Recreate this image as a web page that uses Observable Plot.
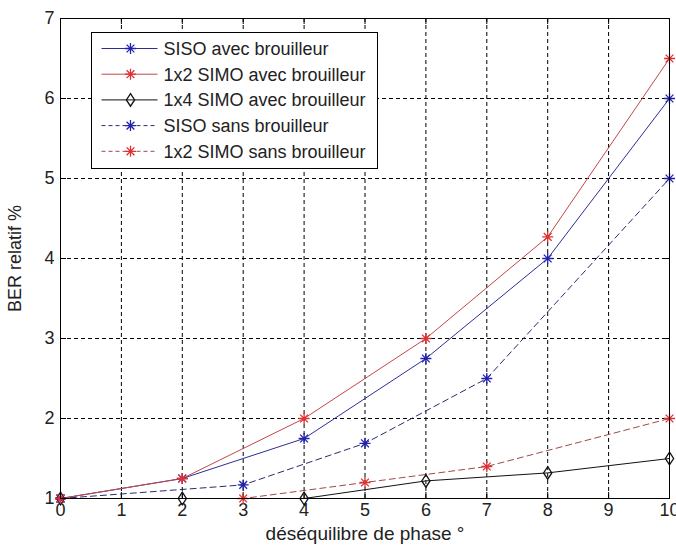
<!DOCTYPE html>
<html>
<head>
<meta charset="utf-8">
<script src="https://cdn.jsdelivr.net/npm/d3@7"></script>
<script src="https://cdn.jsdelivr.net/npm/@observablehq/plot@0.6"></script>
<style>
  html, body { margin: 0; padding: 0; background: #fff; overflow: hidden; }
  #chart svg { display: block; }
</style>
</head>
<body>
<div id="chart"></div>
<script>
// ---- data ----
const xTicks = [0, 1, 2, 3, 4, 5, 6, 7, 8, 9, 10];
const yTicks = [1, 2, 3, 4, 5, 6, 7];
const phaseAvec = [0, 2, 4, 6, 8, 10];
const sisoAvec = [1, 1.25, 1.75, 2.75, 4, 6];
const simo2Avec = [1, 1.25, 2, 3, 4.27, 6.5];
const simo4Avec = [1, 1, 1, 1.22, 1.32, 1.5];
const phaseSans = [0, 3, 5, 7, 10];
const sisoSans = [1, 1.17, 1.69, 2.5, 5];
const simo2Sans = [1, 1, 1.2, 1.4, 2];
const seriesNames = [
  "SISO avec brouilleur",
  "1x2 SIMO avec brouilleur",
  "1x4 SIMO avec brouilleur",
  "SISO sans brouilleur",
  "1x2 SIMO sans brouilleur"
];
const xLabel = "déséquilibre de phase °";
const yLabel = "BER relatif %";

// ---- styles ----
const BLUE_LINE = "#2e2e96", BLUE_MARK = "#2222b0";
const RED_LINE = "#c24848", RED_MARK = "#e03030";
const BLUE_DASH = "#2a2a70", RED_DASH = "#a04848";
const FS = 18;

const star = {
  draw(ctx, size) {
    const r = Math.sqrt(size / Math.PI), d = r * Math.SQRT1_2;
    ctx.moveTo(-r, 0); ctx.lineTo(r, 0);
    ctx.moveTo(0, -r); ctx.lineTo(0, r);
    ctx.moveTo(-d, -d); ctx.lineTo(d, d);
    ctx.moveTo(-d, d); ctx.lineTo(d, -d);
  }
};
const tallDiamond = {
  draw(ctx, size) {
    const r = Math.sqrt(size / Math.PI);
    const w = r * 0.75, h = r * 1.15;
    ctx.moveTo(0, -h); ctx.lineTo(w, 0); ctx.lineTo(0, h); ctx.lineTo(-w, 0); ctx.closePath();
  }
};

const series = [
  {name: seriesNames[0], xs: phaseAvec, ys: sisoAvec, line: BLUE_LINE, mark: BLUE_MARK, dash: null, symbol: star},
  {name: seriesNames[1], xs: phaseAvec, ys: simo2Avec, line: RED_LINE, mark: RED_MARK, dash: null, symbol: star},
  {name: seriesNames[2], xs: phaseAvec, ys: simo4Avec, line: "#111", mark: "#111", dash: null, symbol: tallDiamond},
  {name: seriesNames[3], xs: phaseSans, ys: sisoSans, line: BLUE_DASH, mark: BLUE_MARK, dash: "6,4", symbol: star},
  {name: seriesNames[4], xs: phaseSans, ys: simo2Sans, line: RED_DASH, mark: RED_MARK, dash: "6,4", symbol: star}
];
series.forEach(s => s.data = s.xs.map((x, i) => ({x, y: s.ys[i]})));

const W = 676, H = 547;
const mL = 60, mR = 7, mT = 18, mB = 49;
const frameW = W - mL - mR, frameH = H - mT - mB;
const TICK = 6;

const marks = [
  Plot.gridX(xTicks, {stroke: "#000", strokeOpacity: 1, strokeDasharray: "4,3"}),
  Plot.gridY(yTicks, {stroke: "#000", strokeOpacity: 1, strokeDasharray: "4,3"}),
  Plot.axisX({ticks: xTicks, tickSize: 0, tickPadding: 5, tickFormat: d3.format("d"), label: null, fill: "#222"}),
  Plot.axisY({ticks: yTicks, tickSize: 0, tickPadding: 6, tickFormat: d3.format("d"), label: null, fill: "#222"}),
  Plot.tickX(xTicks, {x: d => d, insetTop: frameH - TICK, stroke: "#000"}),
  Plot.tickX(xTicks, {x: d => d, insetBottom: frameH - TICK, stroke: "#000"}),
  Plot.tickY(yTicks, {y: d => d, insetRight: frameW - TICK, stroke: "#000"}),
  Plot.tickY(yTicks, {y: d => d, insetLeft: frameW - TICK, stroke: "#000"}),
];
for (const s of series) {
  marks.push(Plot.line(s.data, {x: "x", y: "y", stroke: s.line, strokeWidth: 1, strokeDasharray: s.dash}));
}
for (const s of series) {
  marks.push(Plot.dot(s.data, {x: "x", y: "y", symbol: s.symbol, r: 5.5, stroke: s.mark, strokeWidth: 1.3, fill: "none"}));
}
marks.push(Plot.frame({stroke: "#000", strokeWidth: 1}));
marks.push(Plot.text([xLabel], {text: d => d, frameAnchor: "bottom", lineAnchor: "bottom", dy: 41, fill: "#222", fontSize: 19}));
marks.push(Plot.text([yLabel], {text: d => d, frameAnchor: "left", textAnchor: "middle", lineAnchor: "bottom", rotate: -90, dx: -40, fill: "#222"}));

const chart = Plot.plot({
  width: W, height: H,
  marginLeft: mL, marginRight: mR, marginTop: mT, marginBottom: mB,
  x: {domain: [0, 10]},
  y: {domain: [1, 7]},
  style: {fontFamily: "'Liberation Sans', Arial, sans-serif", fontSize: FS + "px", background: "#fff", color: "#222"},
  marks
});

// ---- legend (inside the axes, top-left) ----
const svg = d3.select(chart);
const lg = svg.append("g").attr("text-anchor", "start");
const lx = 91.5, ly = 32.5, lw = 286, lh = 136;
lg.append("rect").attr("x", lx).attr("y", ly).attr("width", lw).attr("height", lh)
  .attr("fill", "#fff").attr("stroke", "#000").attr("stroke-width", 1);
series.forEach((s, i) => {
  const cy = 48.5 + i * 25.7;
  lg.append("line").attr("x1", lx + 10).attr("x2", lx + 66).attr("y1", cy).attr("y2", cy)
    .attr("stroke", s.line).attr("stroke-width", 1).attr("stroke-dasharray", s.dash ? "4,3" : null);
  lg.append("path").attr("transform", `translate(${lx + 39},${cy})`)
    .attr("d", d3.symbol(s.symbol, Math.PI * 5.5 * 5.5)())
    .attr("fill", "none").attr("stroke", s.mark).attr("stroke-width", 1.3);
  lg.append("text").attr("x", lx + 72).attr("y", cy).attr("dy", "0.36em")
    .attr("text-anchor", "start").attr("fill", "#222").attr("font-size", FS).text(s.name);
});

document.getElementById("chart").appendChild(chart);
</script>
</body>
</html>
